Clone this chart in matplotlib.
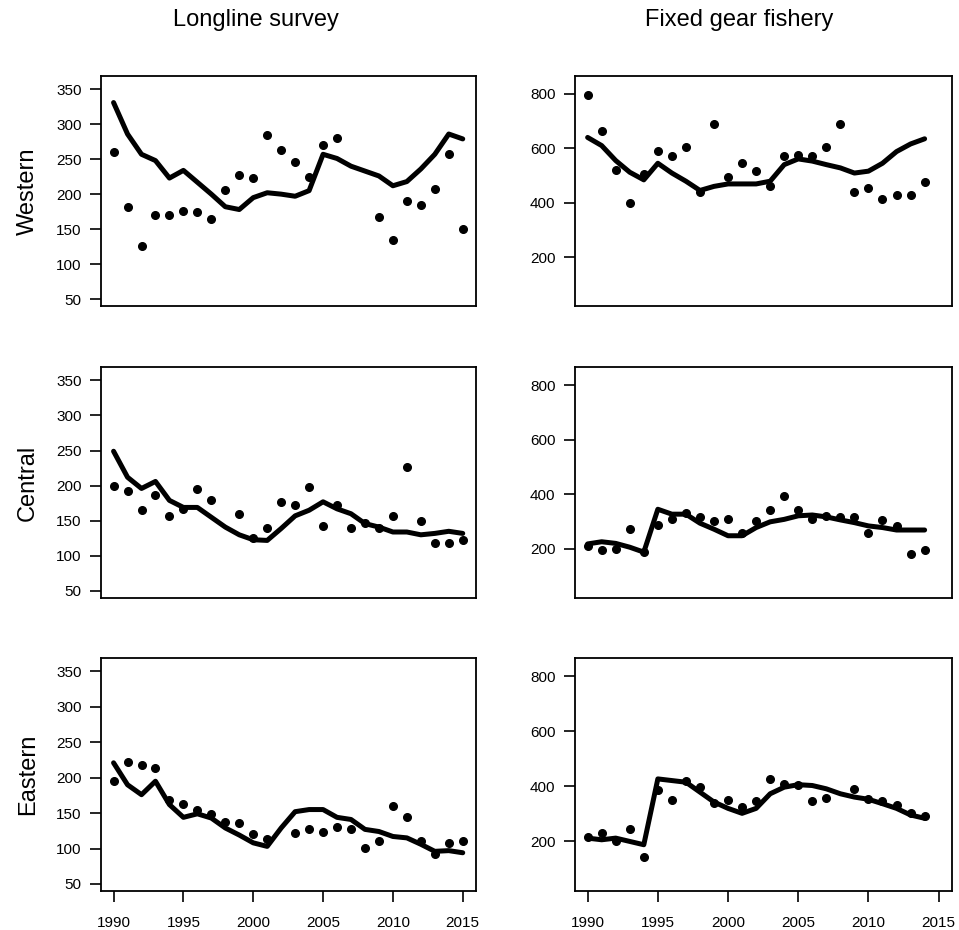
import numpy as np
import matplotlib
matplotlib.use('Agg')
import matplotlib.pyplot as plt

#%%============================================================================
# Data
#==============================================================================

nan = np.nan

years_ll = list(range(1990, 2016))   # longline survey years
years_fg = list(range(1990, 2015))   # fixed gear fishery years

# Western
west_ll_obs = [260, 181, 126, 170, 170, 176, 174, 164, 206, 228, 223, 285, 263,
               246, 225, 271, 280, nan, nan, 167, 135, 190, 185, 208, 257, 150]
west_ll_fit = [331, 286, 257, 248, 223, 234, 217, 200, 182, 178, 195, 202, 200,
               197, 205, 257, 251, 240, 233, 226, 212, 218, 236, 257, 286, 279]
west_fg_obs = [795, 665, 520, 400, 505, 590, 570, 605, 440, 688, 495, 545, 516,
               460, 570, 575, 570, 605, 688, 440, 455, 415, 430, 430, 475]
west_fg_fit = [640, 610, 555, 512, 484, 545, 509, 479, 445, 460, 469, 469, 469,
               479, 540, 561, 553, 540, 528, 509, 516, 545, 588, 616, 635]

# Central
cent_ll_obs = [200, 192, 166, 187, 157, 167, 195, 180, nan, 160, 125, 140, 177,
               172, 198, 142, 172, 140, 147, 140, 157, 227, 149, 119, 119, 123]
cent_ll_fit = [249, 212, 196, 206, 179, 169, 169, 155, 141, 130, 123, 122, 139,
               157, 165, 177, 167, 160, 146, 141, 134, 134, 130, 132, 135, 132]
cent_fg_obs = [212, 196, 200, 272, 188, 287, 309, 333, 315, 303, 311, 258, 303,
               341, 393, 341, 309, 321, 315, 315, 257, 305, 284, 182, 197]
cent_fg_fit = [218, 226, 220, 206, 188, 345, 327, 327, 294, 272, 248, 248, 278,
               299, 308, 321, 324, 317, 306, 296, 284, 278, 269, 269, 269]

# Eastern
east_ll_obs = [195, 222, 218, 213, 169, 163, 155, 149, 137, 136, 120, 114, nan,
               122, 128, 124, 130, 128, 101, 110, 160, 145, 110, 92, 108, 110]
east_ll_fit = [221, 190, 176, 195, 162, 144, 149, 143, 129, 119, 108, 103, 129,
               152, 155, 155, 144, 141, 127, 124, 117, 115, 106, 96, 97, 94]
east_fg_obs = [215, 232, 202, 245, 144, 385, 352, 419, 397, 338, 349, 326, 347,
               427, 409, 405, 346, 359, nan, 389, 353, 346, 332, 302, 292]
east_fg_fit = [212, 206, 212, 200, 188, 427, 421, 415, 379, 343, 320, 302, 320,
               373, 397, 406, 403, 391, 373, 361, 353, 337, 320, 296, 284]

regions = ["Western", "Central", "Eastern"]
col_titles = ["Longline survey", "Fixed gear fishery"]

panels = [
    [(years_ll, west_ll_obs, west_ll_fit), (years_fg, west_fg_obs, west_fg_fit)],
    [(years_ll, cent_ll_obs, cent_ll_fit), (years_fg, cent_fg_obs, cent_fg_fit)],
    [(years_ll, east_ll_obs, east_ll_fit), (years_fg, east_fg_obs, east_fg_fit)],
]

ll_yticks = [50, 100, 150, 200, 250, 300, 350]
fg_yticks = [200, 400, 600, 800]
xticks = [1990, 1995, 2000, 2005, 2010, 2015]

#%%============================================================================
# Plot
#==============================================================================

plt.rcParams['font.family'] = ['Liberation Sans', 'DejaVu Sans']

W, H = 959, 930
fig = plt.figure(figsize=(W / 100., H / 100.), dpi=100)

# axes boxes in pixels: (left, top, right, bottom)
col_px = [(101, 476), (575, 952)]
row_px = [(76, 306), (367, 598), (658, 891)]

for r in range(3):
    for c in range(2):
        x0, x1 = col_px[c]
        y0, y1 = row_px[r]
        ax = fig.add_axes([x0 / W, 1 - y1 / H, (x1 - x0) / W, (y1 - y0) / H])

        yrs, obs, fit = panels[r][c]
        ax.plot(yrs, fit, color='black', lw=3.6,
                solid_capstyle='round', solid_joinstyle='round', zorder=2)
        ax.plot(yrs, obs, 'o', color='black', ms=5.5, zorder=3)

        ax.set_xlim(1989.1, 2015.95)
        if c == 0:
            ax.set_ylim(40, 369)
            ax.set_yticks(ll_yticks)
        else:
            ax.set_ylim(20, 866)
            ax.set_yticks(fg_yticks)

        ax.set_xticks(xticks)
        if r < 2:
            ax.tick_params(axis='x', bottom=False, labelbottom=False)

        ax.tick_params(axis='both', direction='out', length=8, width=1.2,
                       labelsize=11, colors='black')
        ax.tick_params(axis='y', pad=6)
        ax.tick_params(axis='x', pad=10)
        for sp in ax.spines.values():
            sp.set_linewidth(1.3)

        if c == 0:
            fig.text(28 / W, 1 - ((y0 + y1) / 2.) / H, regions[r],
                     rotation=90, fontsize=17, ha='center', va='center')

fig.text(256 / W, 1 - 20 / H, col_titles[0], fontsize=17, ha='center', va='center')
fig.text(739 / W, 1 - 20 / H, col_titles[1], fontsize=17, ha='center', va='center')

plt.savefig('out.png', dpi=100)
plt.close()
